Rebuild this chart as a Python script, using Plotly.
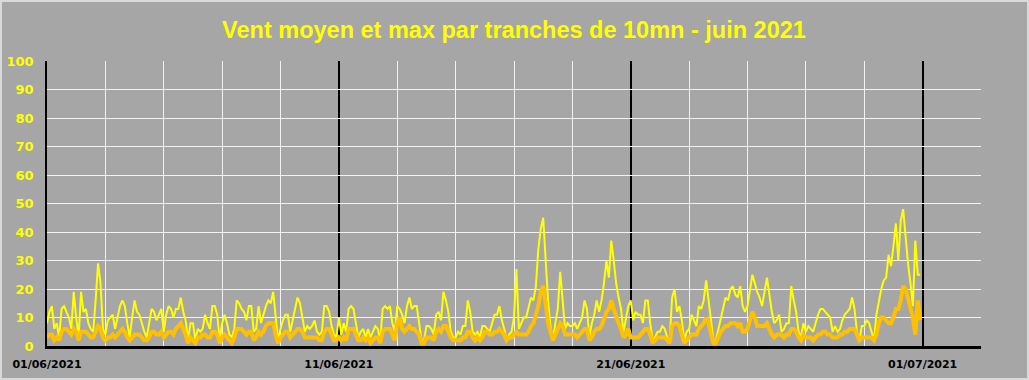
import pandas as pd
import plotly.graph_objects as go

# 2-hour readings, June 2021 (12 per day)
max_wind = [
    8, 12, 14, 6, 8, 3, 13, 14, 12, 10, 6, 19,
    10, 3, 19, 12, 13, 8, 6, 5, 16, 29, 22, 6,
    4, 9, 10, 11, 6, 10, 14, 16, 14, 8, 3, 10,
    16, 12, 11, 8, 5, 3, 8, 13, 12, 9, 11, 13,
    5, 11, 14, 13, 10, 13, 13, 17, 12, 9, 2, 8,
    8, 2, 6, 5, 6, 11, 8, 6, 14, 14, 11, 2,
    8, 11, 8, 4, 3, 6, 16, 15, 13, 12, 9, 14,
    14, 5, 6, 14, 8, 11, 14, 16, 15, 19, 9, 2,
    6, 9, 11, 11, 5, 9, 14, 17, 15, 10, 5, 7,
    6, 7, 9, 5, 4, 5, 14, 14, 12, 7, 4, 3,
    10, 4, 8, 5, 13, 14, 13, 8, 3, 5, 6, 3,
    6, 3, 5, 7, 6, 2, 13, 14, 13, 14, 8, 5,
    14, 13, 11, 8, 14, 17, 13, 14, 14, 7, 2, 2,
    7, 7, 6, 4, 11, 12, 9, 19, 16, 12, 5, 3,
    3, 5, 4, 7, 7, 16, 12, 5, 4, 5, 3, 7,
    7, 6, 5, 8, 11, 11, 14, 9, 6, 2, 4, 5,
    10, 27, 6, 8, 10, 10, 14, 17, 16, 21, 34, 41,
    45, 30, 16, 7, 2, 8, 13, 26, 16, 6, 8, 7,
    7, 8, 6, 8, 10, 16, 13, 3, 8, 11, 16, 12,
    16, 22, 30, 24, 37, 30, 22, 17, 13, 5, 10, 14,
    16, 9, 12, 11, 11, 8, 16, 16, 8, 2, 3, 5,
    5, 7, 6, 3, 2, 17, 20, 12, 14, 9, 2, 5,
    6, 11, 9, 7, 14, 13, 16, 23, 16, 9, 2, 2,
    6, 10, 13, 17, 16, 20, 21, 18, 17, 21, 14, 12,
    14, 20, 25, 22, 19, 17, 14, 19, 24, 18, 12, 8,
    9, 11, 5, 6, 8, 8, 21, 16, 12, 5, 3, 8,
    5, 7, 6, 5, 8, 11, 13, 13, 12, 11, 10, 5,
    7, 5, 6, 9, 11, 12, 13, 17, 13, 5, 2, 7,
    7, 9, 8, 5, 2, 11, 16, 20, 23, 24, 32, 28,
    35, 43, 30, 44, 48, 38, 29, 22, 14, 37, 25, 25,
]
mean_wind = [
    3, 4, 4, 2, 3, 2, 5, 6, 6, 5, 4, 6,
    5, 2, 5, 5, 5, 4, 3, 3, 5, 7, 6, 3,
    2, 3, 3, 4, 3, 4, 5, 6, 5, 3, 2, 3,
    4, 4, 4, 3, 2, 2, 3, 5, 5, 4, 4, 5,
    3, 4, 5, 5, 4, 6, 7, 8, 6, 4, 1, 3,
    2, 1, 3, 3, 4, 4, 3, 3, 5, 5, 4, 1,
    3, 4, 3, 2, 1, 3, 6, 6, 6, 5, 4, 5,
    5, 2, 3, 5, 4, 5, 7, 8, 8, 8, 4, 1,
    3, 4, 5, 5, 3, 4, 5, 6, 6, 5, 3, 3,
    3, 3, 3, 3, 2, 2, 5, 6, 6, 4, 2, 2,
    3, 2, 3, 2, 6, 6, 6, 4, 2, 2, 3, 2,
    3, 1, 2, 3, 3, 1, 5, 6, 6, 6, 4, 2,
    8, 10, 6, 5, 6, 7, 6, 6, 5, 4, 1, 1,
    3, 3, 3, 2, 5, 6, 5, 7, 7, 5, 3, 2,
    2, 2, 2, 3, 3, 5, 5, 3, 2, 3, 2, 3,
    5, 5, 4, 4, 5, 5, 6, 5, 4, 2, 3, 3,
    4, 5, 4, 4, 4, 4, 5, 7, 8, 11, 14, 19,
    21, 15, 8, 5, 2, 4, 6, 8, 7, 4, 4, 4,
    4, 4, 3, 4, 5, 6, 6, 2, 3, 5, 6, 6,
    7, 10, 12, 13, 16, 13, 10, 8, 6, 3, 4, 6,
    3, 3, 3, 3, 4, 5, 6, 6, 4, 1, 2, 3,
    3, 3, 3, 2, 1, 7, 8, 8, 7, 4, 1, 2,
    3, 4, 4, 4, 6, 7, 8, 10, 8, 4, 1, 1,
    3, 5, 6, 7, 7, 8, 8, 8, 7, 8, 5, 5,
    6, 9, 12, 10, 7, 7, 7, 7, 8, 6, 4, 3,
    4, 4, 4, 3, 4, 4, 6, 6, 5, 3, 2, 4,
    3, 3, 3, 2, 3, 4, 4, 5, 5, 4, 4, 3,
    3, 3, 4, 4, 5, 5, 6, 6, 6, 4, 2, 3,
    3, 3, 3, 3, 2, 4, 8, 10, 10, 9, 8, 8,
    10, 13, 13, 16, 21, 20, 17, 14, 10, 4, 16, 9,
]
times = pd.date_range("2021-06-01 00:00", periods=len(max_wind), freq="2h")

tick_dates = ["2021-06-01", "2021-06-11", "2021-06-21", "2021-07-01"]
tick_labels = ["01/06/2021", "11/06/2021", "21/06/2021", "01/07/2021"]
y_ticks = list(range(0, 101, 10))

title_text = "Vent moyen et max par tranches de 10mn - juin 2021"

BG = "#A6A6A6"
fig = go.Figure()
fig.add_trace(go.Scatter(x=times, y=max_wind, mode="lines",
                         line=dict(color="#FFFF00", width=2), name="max"))
fig.add_trace(go.Scatter(x=times, y=mean_wind, mode="lines",
                         line=dict(color="#FFC000", width=4), name="moyen"))

L, R, T, B = 47, 48, 61, 34
W, H = 1029, 380
pw, ph = W - L - R, H - T - B
fig.add_shape(type="rect", xref="paper", yref="paper",
              x0=-L / pw + 1 / pw, x1=1 + R / pw - 1 / pw,
              y0=-B / ph + 1 / ph, y1=1 + T / ph - 1 / ph,
              line=dict(color="#D9D9D9", width=2), layer="below")

fig.update_layout(
    template="none",
    width=W, height=H,
    margin=dict(l=L, r=R, t=T, b=B, autoexpand=False),
    paper_bgcolor=BG, plot_bgcolor=BG,
    showlegend=False,
    title=dict(text=title_text, x=0.5, xref="paper", xanchor="center",
               y=1 - 30 / H, yanchor="middle", yref="container",
               font=dict(family="Liberation Sans", size=23.5, color="#FFFF00",
                         weight="bold")),
    xaxis=dict(range=["2021-06-01", "2021-07-03"], tickmode="array",
               tickvals=tick_dates, ticktext=tick_labels,
               showgrid=True, gridcolor="black", gridwidth=1.5,
               minor=dict(dtick=2 * 86400000, tick0="2021-06-01", showgrid=True,
                          gridcolor="#F2F2F2", gridwidth=1),
               showline=True, linecolor="black", linewidth=3,
               ticks="", ticklabelstandoff=6, automargin=False,
               tickfont=dict(family="DejaVu Sans", size=11, color="black", weight="bold"),
               zeroline=False),
    yaxis=dict(range=[0, 100], tickmode="array", tickvals=y_ticks,
               showgrid=True, gridcolor="#F2F2F2", gridwidth=1,
               showline=True, linecolor="black", linewidth=1.5,
               ticks="", ticklabelstandoff=9, zeroline=False, automargin=False,
               tickfont=dict(family="DejaVu Sans", size=13, color="#FFFF00", weight="bold")),
)
fig.write_html("out.html", config={"displayModeBar": False},
               post_script="document.body.style.margin='0';document.body.style.background='#A6A6A6';")
